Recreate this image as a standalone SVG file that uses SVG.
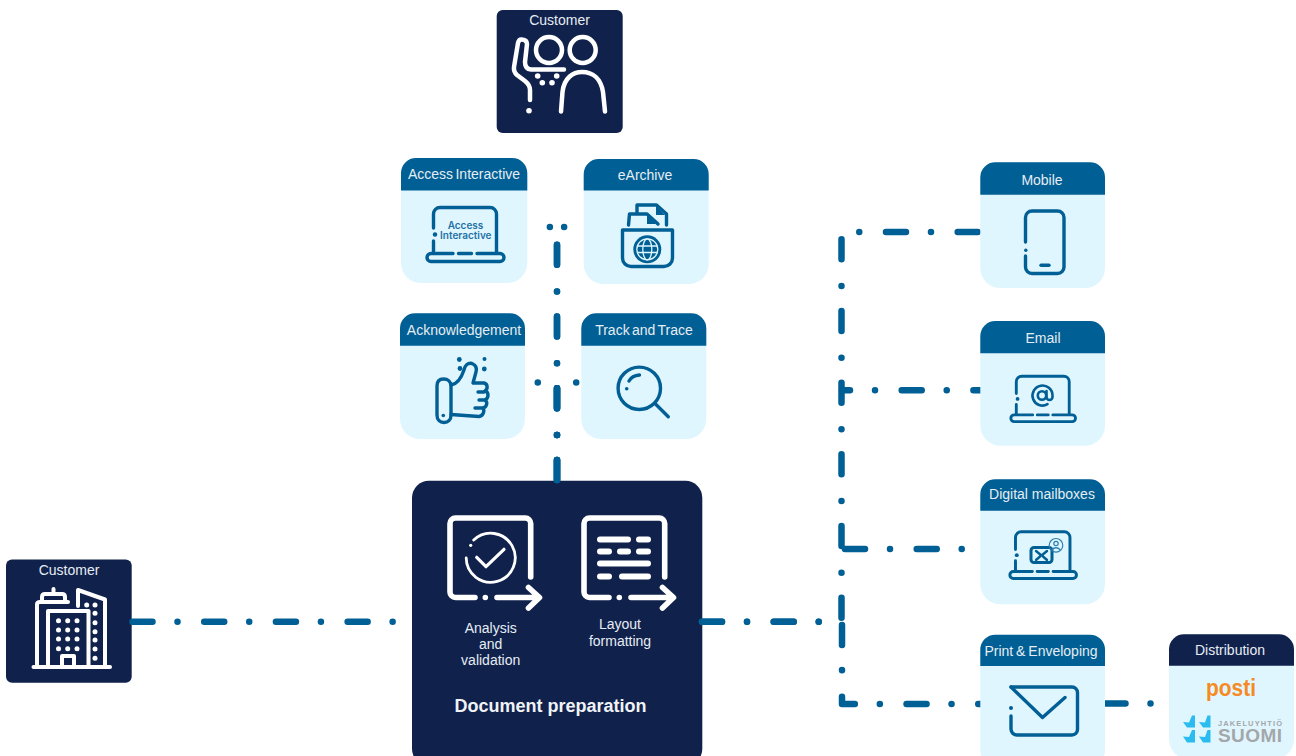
<svg xmlns="http://www.w3.org/2000/svg" width="1296" height="756" viewBox="0 0 1296 756">
<style>
text{font-family:"Liberation Sans",Arial,sans-serif;text-anchor:middle}
.lbl{font-size:14px;fill:#e6edf3}
.tight{word-spacing:-1.500px}
.navy{fill:#10214c}
.blue{fill:#005f94}
.pale{fill:#e0f6ff}
.conn{fill:none;stroke:#005f94;stroke-width:6.5;stroke-linecap:round;stroke-linejoin:round;stroke-dasharray:20 25 .01 26.7}
.ib{fill:none;stroke:#005f94;stroke-width:3.4;stroke-linecap:round;stroke-linejoin:round}
.iw{fill:none;stroke:#fff;stroke-width:4.500;stroke-linecap:round;stroke-linejoin:round}
.iw6{fill:none;stroke:#fff;stroke-width:5.6;stroke-linecap:round;stroke-linejoin:round}
.bar{fill:none;stroke:#fff;stroke-width:6;stroke-linecap:round}
.dotw{fill:#fff}
.dotb{fill:#005f94}
.sq{fill:#2bbcef}
.gray{fill:#a4a7aa}
.inner{font-family:Inter,"Liberation Sans",sans-serif;font-size:10px;font-weight:600;fill:#1f72a5}
</style>
<defs>
<g id="laptop">
<path d="M7.5 22V8A6.5 6.5 0 0 1 14 1.5H64A6.5 6.5 0 0 1 70.5 8V46M7.5 35V46"/>
<path d="M9 28.5h.01" stroke-width="4.500"/>
<path d="M27 47.5H5A4 4 0 0 0 5 55.5H74A4 4 0 0 0 74 47.5H51M32.5 47.5H45.500"/>
</g>
<path id="framearrow" d="M530.700 577V523.500A5.500 5.500 0 0 0 525.200 518H455.500A5.500 5.500 0 0 0 450 523.500V592A5.500 5.500 0 0 0 455.500 597.500H475M485.300 597.500h.01M497 597.500H539M528.500 587.500L539.500 597.500L528.500 608"/>
</defs>

<rect width="1296" height="756" fill="#fff"/>

<g id="node-customer-left">
<rect class="navy" x="6" y="559.500" width="125.700" height="123.300" rx="6"/>
<text class="lbl" x="69" y="575">Customer</text>
<g class="iw" style="stroke-width:4">
<path d="M33.500 667H110"/>
<path d="M37 665V604.500Q37 602 40 602H68"/>
<path d="M48 665V611H88.500V665"/>
<path d="M42 601V597Q42 594 45 594H62Q65 594 65 597V601"/>
<path d="M53.500 593V589"/>
<path d="M78 606V590L105 599.500V665"/>
<path d="M62 665V656H74V665"/>
</g>
<g class="dotw">
<circle cx="58.500" cy="620.700" r="2.500"/><circle cx="67.700" cy="620.700" r="2.500"/><circle cx="77" cy="620.700" r="2.500"/>
<circle cx="58.500" cy="630" r="2.500"/><circle cx="67.700" cy="630" r="2.500"/><circle cx="77" cy="630" r="2.500"/>
<circle cx="58.500" cy="639" r="2.500"/><circle cx="67.700" cy="639" r="2.500"/><circle cx="77" cy="639" r="2.500"/>
<circle cx="58.500" cy="648.700" r="2.500"/><circle cx="67.700" cy="648.700" r="2.500"/><circle cx="77" cy="648.700" r="2.500"/>
<circle cx="86.700" cy="605" r="2.500"/><circle cx="95" cy="605" r="2.500"/><circle cx="95" cy="613.300" r="2.500"/><circle cx="95" cy="622.700" r="2.500"/><circle cx="95" cy="631.700" r="2.500"/><circle cx="95" cy="640" r="2.500"/><circle cx="95" cy="649" r="2.500"/><circle cx="95" cy="658.300" r="2.500"/>
</g>
</g>

<g id="node-document-preparation">
<rect class="navy" x="412" y="480.700" width="290.300" height="285" rx="17"/>
<use href="#framearrow" class="iw6"/>
<path class="iw" style="stroke-width:2.800" d="M473.700 540.100A24.500 24.500 0 1 1 466.200 558"/>
<circle class="dotw" cx="470.700" cy="545.300" r="1.600"/>
<path class="iw" style="stroke-width:3.200" d="M476.700 557.300L486 566.700L504 549.300"/>
<use href="#framearrow" class="iw6" x="134"/>
<path class="bar" d="M600 539.500H628M639 539.500H648M600 551.500H609M620 551.500H628M639 551.500H648M600 563.500H648M600 576.500H609M622 576.500H648"/>
<text class="lbl" x="490.700" y="632.700">Analysis</text>
<text class="lbl" x="490.700" y="649">and</text>
<text class="lbl" x="490.700" y="665">validation</text>
<text class="lbl" x="620" y="629.300">Layout</text>
<text class="lbl" x="620" y="645.700">formatting</text>
<text x="550.500" y="711.700" font-size="18" font-weight="700" fill="#f0f3f6">Document preparation</text>
</g>

<g id="connectors">
<path class="conn" d="M132.500 621.700H400"/>
<path class="conn" d="M557 480V227H520"/>
<path class="conn" d="M557 480V227H600"/>
<path class="conn" d="M557 480V382.500H520"/>
<path class="conn" d="M557 480V382.500H595"/>
<path class="conn" d="M702 621.700H841.500V232H1000"/>
<path class="conn" d="M702 621.700H842V704H1000"/>
<path class="conn" d="M845 549H1000"/>
<path class="conn" d="M842 390.300H1000" stroke-dashoffset="12"/>
<path class="conn" d="M1105.500 703.500H1175"/>
</g>

<g id="node-customer-top">
<rect class="navy" x="496.700" y="10" width="126" height="123" rx="6"/>
<text class="lbl" x="559.500" y="25">Customer</text>
<g class="iw">
<circle cx="549" cy="50" r="13"/>
<circle cx="582.700" cy="50" r="13"/>
<path d="M530 100V90Q530 85 525 81L517 75Q513.500 72 514 67L518 43Q519 39 522 39.500Q527 40 527 44L525 62Q525 69 531 69.500H564"/>
<path d="M561 111.500L562.500 92C564 78 573 72 582 72C593 72 601 79 603 92L605 111.500"/>
</g>
<g class="dotw">
<circle cx="529" cy="110.700" r="2.800"/>
<circle cx="537.700" cy="76" r="2.800"/><circle cx="556.700" cy="76" r="2.800"/><circle cx="542.300" cy="82.700" r="2.800"/><circle cx="552" cy="82.700" r="2.800"/>
</g>
</g>

<g id="node-access-interactive">
<rect class="pale" x="401" y="158" width="126.300" height="125" rx="20"/>
<path class="blue" d="M401 190.500V173A15 15 0 0 1 416 158H512.300A15 15 0 0 1 527.300 173V190.500Z"/>
<text class="lbl tight" x="464" y="179">Access Interactive</text>
<use href="#laptop" class="ib" transform="translate(426 206)"/>
<text class="inner" x="465.500" y="229">Access</text>
<text class="inner" x="465.800" y="239">Interactive</text>
</g>

<g id="node-earchive">
<rect class="pale" x="583.700" y="159" width="125" height="125" rx="20"/>
<path class="blue" d="M583.700 190.500V174A15 15 0 0 1 598.700 159H693.700A15 15 0 0 1 708.700 174V190.500Z"/>
<text class="lbl" x="645" y="180">eArchive</text>
<g class="ib">
<path d="M622.500 230H672.500V258A8.500 8.500 0 0 1 664 266.500H631A8.500 8.500 0 0 1 622.500 258Z"/>
<path d="M628.500 225L629.500 214H647L658 224"/>
<path d="M637 213V205H656.500L666.500 214V225"/>
</g>
<path class="dotb" d="M647 215L656 224H647ZM656 206L665 215H656Z"/>
<circle class="dotb" cx="647.300" cy="249.300" r="14"/>
<g fill="none" stroke="#e0f6ff" stroke-width="1.300">
<circle cx="647.300" cy="249.300" r="10.500"/>
<ellipse cx="647.300" cy="249.300" rx="4.500" ry="10.500"/>
<path d="M637 246H657.500M637 252.500H657.500"/>
</g>
</g>

<g id="node-acknowledgement">
<rect class="pale" x="400" y="313.300" width="125" height="125.700" rx="20"/>
<path class="blue" d="M400 345.700V328.300A15 15 0 0 1 415 313.300H510A15 15 0 0 1 525 328.300V345.700Z"/>
<text class="lbl" x="464" y="335">Acknowledgement</text>
<g class="ib">
<path d="M443.500 379C439 379 437 382 437 386V415C437 420 440 422.500 444 422.500C448 422.500 451 420 451 415V386C451 382 448 379 443.500 379Z"/>
<path d="M451 385C458 384 462 376 464 370C465 365 468 362.500 472 363.500C476 365 477 368 476 372L473 383H484C488 384 488 389 485 391C489 392 489 398 485 400C488 402 487 407 483 408C485 411 483 416 479 416.500L451 414.500"/>
<path d="M478 392H484M479 400H485M475 408H482"/>
</g>
<g class="dotb">
<circle cx="459.300" cy="359.500" r="2.400"/><circle cx="460" cy="368.500" r="2.400"/><circle cx="484.500" cy="359" r="2"/><circle cx="484.300" cy="369" r="2.400"/><circle cx="443.300" cy="415.500" r="1.800"/>
</g>
</g>

<g id="node-track-and-trace">
<rect class="pale" x="581.300" y="313.300" width="125" height="125.700" rx="20"/>
<path class="blue" d="M581.300 345.700V328.300A15 15 0 0 1 596.300 313.300H691.300A15 15 0 0 1 706.300 328.300V345.700Z"/>
<text class="lbl tight" x="644" y="335">Track and Trace</text>
<g class="ib">
<circle cx="639.300" cy="388.300" r="21.200"/>
<path d="M655.500 404L668.300 416.700"/>
<path d="M629 381Q632 375.500 639.500 375"/>
</g>
<circle class="dotb" cx="626.700" cy="388.700" r="1.800"/>
</g>

<g id="node-mobile">
<rect class="pale" x="980.300" y="162.300" width="124.700" height="125.700" rx="20"/>
<path class="blue" d="M980.300 194.700V177.300A15 15 0 0 1 995.300 162.300H1090A15 15 0 0 1 1105 177.300V194.700Z"/>
<text class="lbl" x="1042" y="185">Mobile</text>
<g class="ib">
<path d="M1025.500 242V217.500A6.500 6.500 0 0 1 1032 211H1057.500A6.500 6.500 0 0 1 1064 217.500V267A6.500 6.500 0 0 1 1057.500 273.500H1032A6.500 6.500 0 0 1 1025.500 267V256"/>
<path d="M1025.800 250.300h.01"/>
<path d="M1041 265.300H1049"/>
</g>
</g>

<g id="node-email">
<rect class="pale" x="980.300" y="321" width="124.700" height="124.700" rx="20"/>
<path class="blue" d="M980.300 353.300V336A15 15 0 0 1 995.300 321H1090A15 15 0 0 1 1105 336V353.300Z"/>
<text class="lbl" x="1043" y="342.700">Email</text>
<use href="#laptop" class="ib" transform="translate(1010 375) scale(.84)"/>
<g class="ib" style="stroke-width:2.600">
<circle cx="1042" cy="395.500" r="4.200"/>
<path d="M1046.500 391V397A3 3 0 0 0 1052.500 397V395.500A10 10 0 1 0 1047.500 404.200"/>
</g>
</g>

<g id="node-digital-mailboxes">
<rect class="pale" x="980.300" y="479.300" width="124.700" height="125" rx="20"/>
<path class="blue" d="M980.300 510.700V494.300A15 15 0 0 1 995.300 479.300H1090A15 15 0 0 1 1105 494.300V510.700Z"/>
<text class="lbl" x="1042" y="499.300">Digital mailboxes</text>
<use href="#laptop" class="ib" transform="translate(1009 530.500) scale(.865)"/>
<circle class="pale" cx="1056" cy="545.300" r="8"/>
<g class="ib" style="stroke-width:3">
<rect x="1031" y="547.500" width="21" height="15" rx="3"/>
</g>
<path class="ib" style="stroke-width:2.400" d="M1036 551L1041.500 555.500L1047 551M1036 560L1040 556.500M1047 560L1043 556.500"/>
<g fill="none" stroke="#2a7fb0" stroke-width="1.200">
<circle cx="1056" cy="545.300" r="6.800"/>
<circle cx="1056" cy="543.500" r="2.200"/>
<path d="M1051.500 550Q1056 545.500 1060.500 550"/>
</g>
</g>

<g id="node-print-enveloping">
<rect class="pale" x="980.300" y="634.700" width="124.700" height="135" rx="20"/>
<path class="blue" d="M980.300 666V649.700A15 15 0 0 1 995.300 634.700H1090A15 15 0 0 1 1105 649.700V666Z"/>
<text class="lbl" style="word-spacing:-1px" x="1041" y="655.700">Print &amp; Enveloping</text>
<g class="ib">
<path d="M1011 687H1072A5.500 5.500 0 0 1 1077.500 692.500V729.500A5.500 5.500 0 0 1 1072 735H1017.500A6 6 0 0 1 1011 729V716"/>
<path d="M1011 687L1042.500 717.500L1065 697.500"/>
</g>
<circle class="dotb" cx="1011" cy="708" r="2"/>
</g>

<g id="node-distribution">
<rect class="pale" x="1169" y="634.300" width="125" height="125" rx="20"/>
<path class="navy" d="M1169 665.700V649.300A15 15 0 0 1 1184 634.300H1279A15 15 0 0 1 1294 649.300V665.700Z"/>
<text class="lbl" x="1230" y="655">Distribution</text>
<text x="1231" y="696" font-size="23" font-weight="700" fill="#f58a1f" textLength="50" lengthAdjust="spacingAndGlyphs">posti</text>
<g class="sq">
<path d="M1183 722L1189 722.500L1192 715.500H1195V727.500H1187Z"/>
<path d="M1199 722L1205 722.500L1207.500 715.500H1210.500V727.500H1203Z"/>
<path d="M1183 736.500L1189 737L1192 730H1195V742.500H1187Z"/>
<path d="M1199 736.500L1205 737L1207.500 730H1210.500V742.500H1203Z"/>
</g>
<text class="gray" x="1250" y="725.500" font-size="7.500" font-weight="700" textLength="64" lengthAdjust="spacing">JAKELUYHTIÖ</text>
<text class="gray" x="1250" y="742.300" font-size="19" font-weight="700" textLength="64" lengthAdjust="spacing">SUOMI</text>
</g>
</svg>
